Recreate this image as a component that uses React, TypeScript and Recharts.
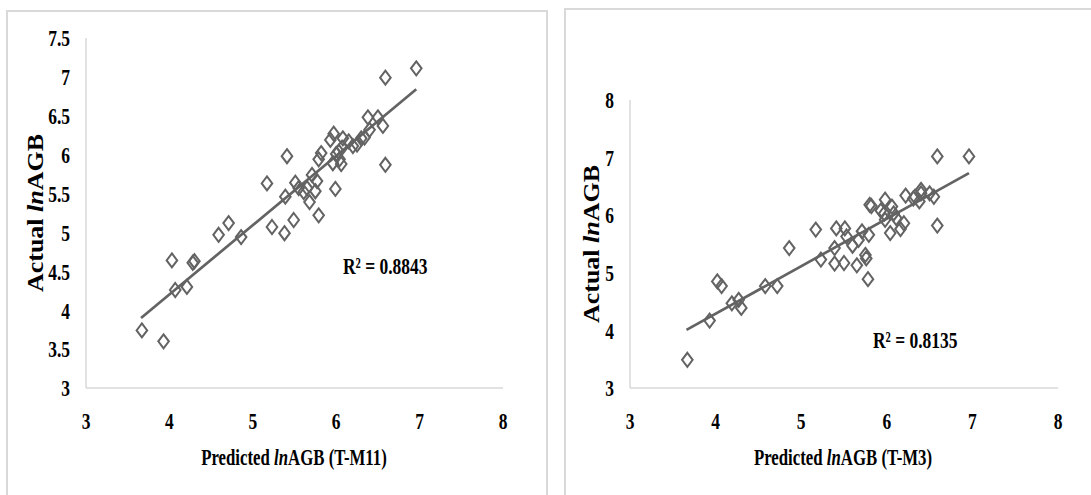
import React from "react";
import { ReferenceLine, Scatter, ScatterChart, XAxis, YAxis } from "recharts";

// T-M11 panel: predicted vs actual lnAGB
const m11Predicted = [
  3.67, 3.93, 4.03, 4.07, 4.21, 4.28, 4.3, 4.59, 4.71, 4.86, 5.17, 5.23, 5.38,
  5.39, 5.41, 5.49, 5.51, 5.55, 5.61, 5.65, 5.68, 5.71, 5.75, 5.77, 5.79, 5.79,
  5.82, 5.93, 5.97, 5.96, 5.99, 6.0, 6.03, 6.04, 6.06, 6.08, 6.07, 6.15, 6.2,
  6.25, 6.3, 6.34, 6.38, 6.4, 6.5, 6.56, 6.59, 6.59, 6.96,
];
const m11Actual = [
  3.74, 3.6, 4.64, 4.26, 4.3, 4.61, 4.63, 4.97, 5.12, 4.94, 5.63, 5.07, 4.99,
  5.46, 5.98, 5.16, 5.64, 5.57, 5.52, 5.57, 5.39, 5.74, 5.53, 5.66, 5.22, 5.94,
  6.02, 6.19, 6.27, 5.89, 5.56, 6.01, 6.04, 5.94, 5.88, 6.21, 6.09, 6.17, 6.11,
  6.13, 6.21, 6.22, 6.48, 6.32, 6.48, 6.37, 6.99, 5.87, 7.11,
];
const m11TrendX = [3.66, 6.96];
const m11TrendY = [3.9, 6.84];

// T-M3 panel
const m3Predicted = [
  3.67, 3.93, 4.02, 4.07, 4.19, 4.27, 4.3, 4.58, 4.72, 4.86, 5.17, 5.23, 5.39,
  5.39, 5.41, 5.5, 5.51, 5.53, 5.6, 5.65, 5.67, 5.71, 5.75, 5.76, 5.78, 5.79,
  5.8, 5.82, 5.93, 5.98, 5.98, 5.97, 6.04, 6.06, 6.08, 6.11, 6.16, 6.2, 6.22,
  6.31, 6.33, 6.38, 6.4, 6.4, 6.5, 6.55, 6.59, 6.59, 6.96,
];
const m3Actual = [
  3.49, 4.17, 4.85, 4.77, 4.47, 4.53, 4.39, 4.77, 4.77, 5.43, 5.75, 5.23, 5.16,
  5.43, 5.77, 5.17, 5.77, 5.63, 5.47, 5.13, 5.57, 5.72, 5.31, 5.25, 4.89, 5.66,
  6.18, 6.16, 6.08, 6.27, 5.92, 6.03, 5.69, 6.15, 6.03, 5.95, 5.76, 5.86, 6.34,
  6.29, 6.32, 6.24, 6.44, 6.38, 6.38, 6.32, 7.02, 5.82, 7.02,
];
const m3TrendX = [3.66, 6.96];
const m3TrendY = [4.01, 6.73];

const xTicks = [3, 4, 5, 6, 7, 8];
const m11YTicks = [3, 3.5, 4, 4.5, 5, 5.5, 6, 6.5, 7, 7.5];
const m3YTicks = [3, 4, 5, 6, 7, 8];

const FONT = "'Liberation Serif', 'Times New Roman', serif";
const TICK_SQUEEZE = 0.76;
const TITLE_SQUEEZE = 0.7;
const gridGray = "#d9d9d9";
const markGray = "#636363";

const toPoints = (xs: number[], ys: number[]) =>
  xs.map((x, i) => ({ x, y: ys[i] }));

const Diamond = (props: any) => {
  const { cx, cy } = props;
  if (cx == null || cy == null) return <g />;
  return (
    <polygon
      points={`${cx},${cy - 7} ${cx + 5.3},${cy} ${cx},${cy + 7} ${cx - 5.3},${cy}`}
      fill="none"
      stroke={markGray}
      strokeWidth={2}
    />
  );
};

const YTick = (props: any) => {
  const { x, y, payload } = props;
  return (
    <g transform={`translate(${x - 16},${y})`}>
      <text
        transform={`scale(${TICK_SQUEEZE},1)`}
        textAnchor="end"
        dy="0.36em"
        fontFamily={FONT}
        fontWeight="bold"
        fontSize={23}
        fill="#000"
      >
        {payload.value}
      </text>
    </g>
  );
};

const XTick = (props: any) => {
  const { x, y, payload } = props;
  return (
    <g transform={`translate(${x},${y + 33})`}>
      <text
        transform={`scale(${TICK_SQUEEZE},1)`}
        textAnchor="middle"
        dy="0.36em"
        fontFamily={FONT}
        fontWeight="bold"
        fontSize={23}
        fill="#000"
      >
        {payload.value}
      </text>
    </g>
  );
};

function Panel({
  left,
  width,
  margin,
  yDomain,
  yTicks,
  points,
  trend,
}: {
  left: number;
  width: number;
  margin: { top: number; right: number; bottom: number; left: number };
  yDomain: [number, number];
  yTicks: number[];
  points: { x: number; y: number }[];
  trend: { x: number; y: number }[];
}) {
  return (
    <div style={{ position: "absolute", left, top: 0 }}>
      <ScatterChart width={width} height={495} margin={margin}>
        <XAxis
          type="number"
          dataKey="x"
          domain={[3, 8]}
          ticks={xTicks}
          allowDataOverflow
          height={1}
          tickSize={0}
          tickMargin={0}
          tickLine={false}
          axisLine={{ stroke: gridGray, strokeWidth: 1.5 }}
          tick={<XTick />}
        />
        <YAxis
          type="number"
          dataKey="y"
          domain={yDomain}
          ticks={yTicks}
          allowDataOverflow
          width={1}
          tickSize={0}
          tickMargin={0}
          tickLine={false}
          axisLine={{ stroke: gridGray, strokeWidth: 1.5 }}
          tick={<YTick />}
        />
        <Scatter data={points} shape={<Diamond />} isAnimationActive={false} />
        <ReferenceLine
          segment={trend}
          stroke={markGray}
          strokeWidth={2.7}
          ifOverflow="visible"
        />
      </ScatterChart>
    </div>
  );
}

const textStyle = {
  fontFamily: FONT,
  fontWeight: "bold" as const,
  fill: "#000",
};

export default function App() {
  return (
    <div
      style={{
        position: "absolute",
        left: 0,
        top: 0,
        width: 1091,
        height: 495,
        overflow: "hidden",
        background: "#fff",
      }}
    >
      <div
        style={{
          position: "absolute",
          left: 6,
          top: 10,
          width: 538,
          height: 520,
          border: `2px solid ${gridGray}`,
        }}
      />
      <div
        style={{
          position: "absolute",
          left: 564,
          top: 8,
          width: 600,
          height: 520,
          border: `2px solid ${gridGray}`,
        }}
      />

      <Panel
        left={0}
        width={545}
        margin={{ top: 38, right: 42, bottom: 106, left: 85 }}
        yDomain={[3, 7.5]}
        yTicks={m11YTicks}
        points={toPoints(m11Predicted, m11Actual)}
        trend={toPoints(m11TrendX, m11TrendY)}
      />
      <Panel
        left={545}
        width={546}
        margin={{ top: 100, right: 33, bottom: 106, left: 84 }}
        yDomain={[3, 8]}
        yTicks={m3YTicks}
        points={toPoints(m3Predicted, m3Actual)}
        trend={toPoints(m3TrendX, m3TrendY)}
      />

      <svg
        width={1091}
        height={495}
        style={{ position: "absolute", left: 0, top: 0, pointerEvents: "none" }}
      >
        <g transform={`translate(294,465) scale(${TITLE_SQUEEZE},1)`}>
          <text textAnchor="middle" fontSize={24} {...textStyle}>
            Predicted <tspan fontStyle="italic">ln</tspan>AGB (T-M11)
          </text>
        </g>
        <g transform={`translate(843,465) scale(${TITLE_SQUEEZE},1)`}>
          <text textAnchor="middle" fontSize={24} {...textStyle}>
            Predicted <tspan fontStyle="italic">ln</tspan>AGB (T-M3)
          </text>
        </g>
        <g transform="translate(43,213) rotate(-90) scale(1,0.88)">
          <text textAnchor="middle" fontSize={26} {...textStyle}>
            Actual <tspan fontStyle="italic">ln</tspan>AGB
          </text>
        </g>
        <g transform="translate(599,244) rotate(-90) scale(1,0.88)">
          <text textAnchor="middle" fontSize={26} {...textStyle}>
            Actual <tspan fontStyle="italic">ln</tspan>AGB
          </text>
        </g>
        <g transform={`translate(343,274) scale(${TICK_SQUEEZE},1)`}>
          <text fontSize={23} {...textStyle}>
            R² = 0.8843
          </text>
        </g>
        <g transform={`translate(873,348) scale(${TICK_SQUEEZE},1)`}>
          <text fontSize={23} {...textStyle}>
            R² = 0.8135
          </text>
        </g>
      </svg>
    </div>
  );
}
